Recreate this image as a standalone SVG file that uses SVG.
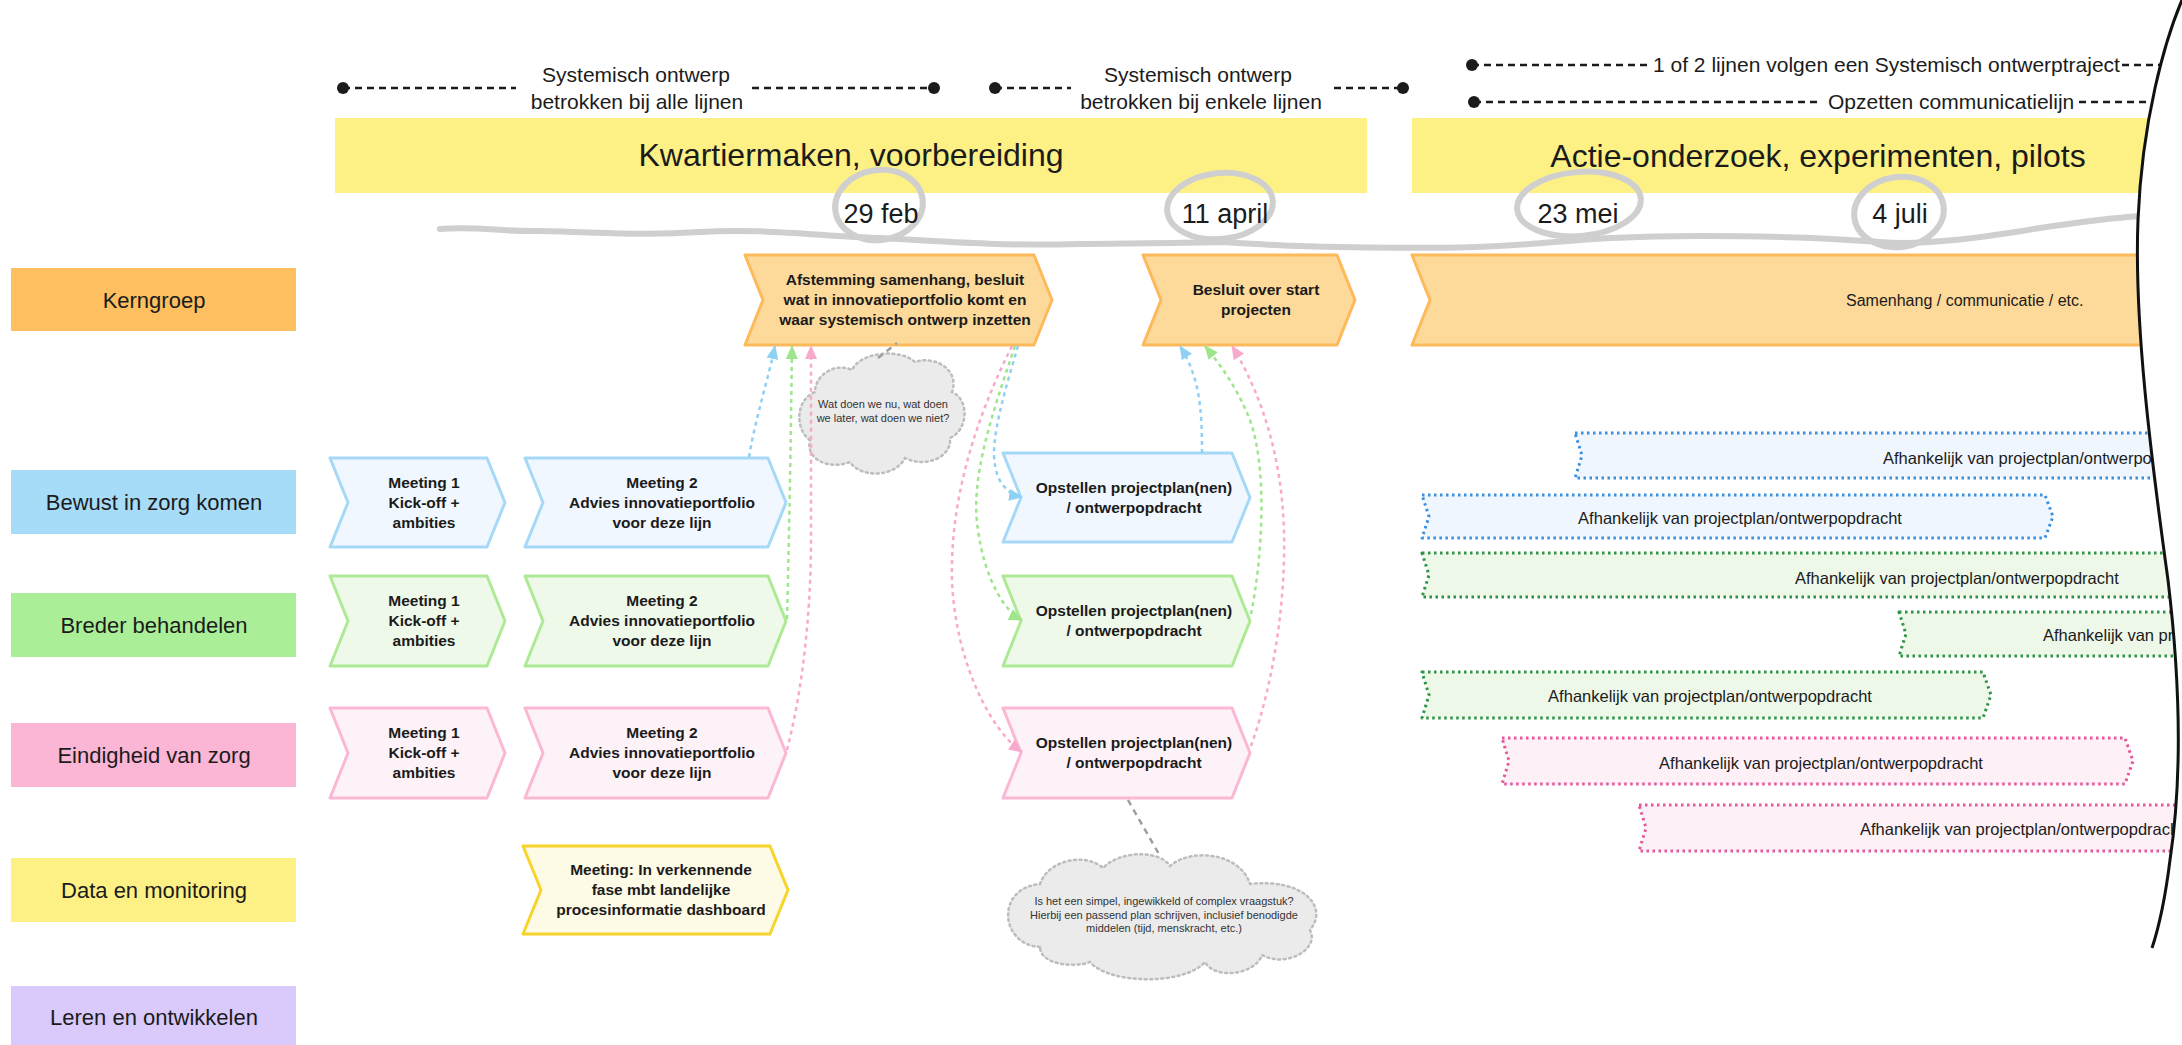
<svg xmlns="http://www.w3.org/2000/svg" width="2182" height="1045" viewBox="0 0 2182 1045">
  <style>
    text { font-family: "Liberation Sans", Arial, sans-serif; fill: #1b1b1b; }
    .lbl { font-size: 21px; }
    .title { font-size: 32px; text-anchor: middle; }
    .date { font-size: 27px; text-anchor: middle; }
    .lane-text { font-size: 22px; text-anchor: middle; }
    .node-text { font-size: 15.5px; font-weight: bold; text-anchor: middle; }
    .cloud-text { font-size: 11px; text-anchor: middle; fill: #333; }
    .bar-text { font-size: 16.5px; }
    .tl-dash { stroke: #1b1b1b; stroke-width: 2.5; stroke-dasharray: 7 5; fill: none; }
    .tl-dot { fill: #1b1b1b; }
    .scribble { fill: none; stroke: #cfcfcf; stroke-width: 6; stroke-linecap: round; stroke-linejoin: round; }
    .n-orange { fill: #fdd99a; stroke: #fdb95a; stroke-width: 3; stroke-linejoin: round; }
    .n-blue { fill: #f0f7fe; stroke: #a5d9f7; stroke-width: 3; stroke-linejoin: round; }
    .n-green { fill: #eff9ea; stroke: #aeea96; stroke-width: 3; stroke-linejoin: round; }
    .n-pink { fill: #fdf2f7; stroke: #fbb8d5; stroke-width: 3; stroke-linejoin: round; }
    .n-yellow { fill: #fdfae6; stroke: #f8d42a; stroke-width: 3; stroke-linejoin: round; }
    .bar { stroke-width: 3; stroke-dasharray: 2.5 3.5; stroke-linejoin: round; }
    .bar-blue { fill: #f0f6fe; stroke: #3b8fdc; }
    .bar-green { fill: #eef8e9; stroke: #2f9446; }
    .bar-pink { fill: #fdf0f6; stroke: #e4589a; }
    .cloud { fill: #ebebeb; stroke: #bdbdbd; stroke-width: 2.5; stroke-dasharray: 2 3.5; stroke-linecap: round; }
    .note-link { fill: none; stroke: #9e9e9e; stroke-width: 2.5; stroke-dasharray: 6 5; }
    .link { fill: none; stroke-width: 2.5; stroke-dasharray: 4 4; }
    .l-blue { stroke: #8fd1f5; }
    .l-green { stroke: #9ee58b; }
    .l-pink { stroke: #f9a9cc; }
  </style>
  <defs>
    <marker id="arrow-blue" viewBox="0 0 14 12" refX="13" refY="6" markerWidth="14" markerHeight="12" markerUnits="userSpaceOnUse" orient="auto">
      <path d="M0,0 L14,6 L0,12 z" fill="#8fd1f5"/>
    </marker>
    <marker id="arrow-green" viewBox="0 0 14 12" refX="13" refY="6" markerWidth="14" markerHeight="12" markerUnits="userSpaceOnUse" orient="auto">
      <path d="M0,0 L14,6 L0,12 z" fill="#9ee58b"/>
    </marker>
    <marker id="arrow-pink" viewBox="0 0 14 12" refX="13" refY="6" markerWidth="14" markerHeight="12" markerUnits="userSpaceOnUse" orient="auto">
      <path d="M0,0 L14,6 L0,12 z" fill="#f9a9cc"/>
    </marker>
  </defs>

  <rect x="0" y="0" width="2182" height="1045" fill="#ffffff"/>

  <!-- design-involvement spans above the phases -->
  <g id="span-alle-lijnen">
    <line class="tl-dash" x1="343" y1="88" x2="516" y2="88"/>
    <line class="tl-dash" x1="752" y1="88" x2="934" y2="88"/>
    <circle class="tl-dot" cx="343" cy="88" r="6"/>
    <circle class="tl-dot" cx="934" cy="88" r="6"/>
    <text class="lbl" x="636" y="82" text-anchor="middle">Systemisch ontwerp</text>
    <text class="lbl" x="637" y="109" text-anchor="middle">betrokken bij alle lijnen</text>
  </g>
  <g id="span-enkele-lijnen">
    <line class="tl-dash" x1="995" y1="88" x2="1071" y2="88"/>
    <line class="tl-dash" x1="1334" y1="88" x2="1403" y2="88"/>
    <circle class="tl-dot" cx="995" cy="88" r="6"/>
    <circle class="tl-dot" cx="1403" cy="88" r="6"/>
    <text class="lbl" x="1198" y="82" text-anchor="middle">Systemisch ontwerp</text>
    <text class="lbl" x="1201" y="109" text-anchor="middle">betrokken bij enkele lijnen</text>
  </g>
  <g id="span-ontwerptraject">
    <line class="tl-dash" x1="1472" y1="65" x2="1648" y2="65"/>
    <line class="tl-dash" x1="2122" y1="65" x2="2182" y2="65"/>
    <circle class="tl-dot" cx="1472" cy="65" r="6"/>
    <text class="lbl" x="1653" y="72">1 of 2 lijnen volgen een Systemisch ontwerptraject</text>
  </g>
  <g id="span-communicatie">
    <line class="tl-dash" x1="1474" y1="102" x2="1822" y2="102"/>
    <line class="tl-dash" x1="2079" y1="102" x2="2182" y2="102"/>
    <circle class="tl-dot" cx="1474" cy="102" r="6"/>
    <text class="lbl" x="1828" y="109">Opzetten communicatielijn</text>
  </g>

  <!-- phases -->
  <g id="phase-kwartiermaken">
    <rect x="335" y="118" width="1032" height="75" fill="#fdf185"/>
    <text class="title" x="851" y="166">Kwartiermaken, voorbereiding</text>
  </g>
  <g id="phase-actie-onderzoek">
    <rect x="1412" y="118" width="770" height="75" fill="#fdf185"/>
    <text class="title" x="1818" y="167">Actie-onderzoek, experimenten, pilots</text>
  </g>

  <!-- hand-drawn time line with circled dates -->
  <g id="timeline">
    <path class="scribble" d="M440,229 C480,226 500,232 540,231 C600,232 640,236 700,232 C760,228 820,236 880,238 C950,242 1000,246 1080,244 C1150,243 1190,243 1220,242 C1260,244 1290,247 1340,247 C1420,248 1470,249 1530,244 C1580,240 1620,236 1700,236 C1780,236 1830,238 1880,242 C1930,246 1990,236 2040,228 C2080,222 2110,218 2140,216"/>
    <ellipse class="scribble" cx="879" cy="205" rx="44" ry="35" transform="rotate(-8 879 205)"/>
    <ellipse class="scribble" cx="1220" cy="206" rx="53" ry="33" transform="rotate(-6 1220 206)"/>
    <ellipse class="scribble" cx="1579" cy="204" rx="62" ry="32" transform="rotate(-5 1579 204)"/>
    <ellipse class="scribble" cx="1899" cy="212" rx="45" ry="35" transform="rotate(-8 1899 212)"/>
    <text class="date" x="881" y="223">29 feb</text>
    <text class="date" x="1225" y="223">11 april</text>
    <text class="date" x="1578" y="223">23 mei</text>
    <text class="date" x="1900" y="223">4 juli</text>
  </g>

  <!-- swimlane headers -->
  <g id="lane-kerngroep">
    <rect x="11" y="268" width="285" height="63" fill="#fdbf5f"/>
    <text class="lane-text" x="154" y="308">Kerngroep</text>
  </g>
  <g id="lane-bewust">
    <rect x="11" y="470" width="285" height="64" fill="#a6dcf8"/>
    <text class="lane-text" x="154" y="510">Bewust in zorg komen</text>
  </g>
  <g id="lane-breder">
    <rect x="11" y="593" width="285" height="64" fill="#abee98"/>
    <text class="lane-text" x="154" y="633">Breder behandelen</text>
  </g>
  <g id="lane-eindigheid">
    <rect x="11" y="723" width="285" height="64" fill="#fbb5d5"/>
    <text class="lane-text" x="154" y="763">Eindigheid van zorg</text>
  </g>
  <g id="lane-data">
    <rect x="11" y="858" width="285" height="64" fill="#fdf185"/>
    <text class="lane-text" x="154" y="898">Data en monitoring</text>
  </g>
  <g id="lane-leren">
    <rect x="11" y="986" width="285" height="64" fill="#d9cafb"/>
    <text class="lane-text" x="154" y="1025">Leren en ontwikkelen</text>
  </g>

  <!-- Kerngroep steps -->
  <g id="node-afstemming">
    <polygon class="n-orange" points="745,255 1034,255 1052,300 1034,345 745,345 763,300"/>
    <text class="node-text" x="905" y="285">Afstemming samenhang, besluit</text>
    <text class="node-text" x="905" y="305">wat in innovatieportfolio komt en</text>
    <text class="node-text" x="905" y="325">waar systemisch ontwerp inzetten</text>
  </g>
  <g id="node-besluit">
    <polygon class="n-orange" points="1143,255 1337,255 1355,300 1337,345 1143,345 1161,300"/>
    <text class="node-text" x="1256" y="295">Besluit over start</text>
    <text class="node-text" x="1256" y="315">projecten</text>
  </g>
  <g id="node-samenhang">
    <polygon class="n-orange" points="1412,255 2200,255 2200,345 1412,345 1430,300"/>
    <text x="1846" y="306" font-size="16">Samenhang / communicatie / etc.</text>
  </g>

  <!-- Bewust in zorg komen -->
  <g id="node-bewust-m1">
    <polygon class="n-blue" points="330,458 487,458 505,502.5 487,547 330,547 348,502.5"/>
    <text class="node-text" x="424" y="488">Meeting 1</text>
    <text class="node-text" x="424" y="508">Kick-off +</text>
    <text class="node-text" x="424" y="528">ambities</text>
  </g>
  <g id="node-bewust-m2">
    <polygon class="n-blue" points="525,458 768,458 786,502.5 768,547 525,547 543,502.5"/>
    <text class="node-text" x="662" y="488">Meeting 2</text>
    <text class="node-text" x="662" y="508">Advies innovatieportfolio</text>
    <text class="node-text" x="662" y="528">voor deze lijn</text>
  </g>
  <g id="node-bewust-plan">
    <polygon class="n-blue" points="1003,453 1232,453 1250,497.5 1232,542 1003,542 1021,497.5"/>
    <text class="node-text" x="1134" y="493">Opstellen projectplan(nen)</text>
    <text class="node-text" x="1134" y="513">/ ontwerpopdracht</text>
  </g>

  <!-- Breder behandelen -->
  <g id="node-breder-m1">
    <polygon class="n-green" points="330,576 487,576 505,621 487,666 330,666 348,621"/>
    <text class="node-text" x="424" y="606">Meeting 1</text>
    <text class="node-text" x="424" y="626">Kick-off +</text>
    <text class="node-text" x="424" y="646">ambities</text>
  </g>
  <g id="node-breder-m2">
    <polygon class="n-green" points="525,576 768,576 786,621 768,666 525,666 543,621"/>
    <text class="node-text" x="662" y="606">Meeting 2</text>
    <text class="node-text" x="662" y="626">Advies innovatieportfolio</text>
    <text class="node-text" x="662" y="646">voor deze lijn</text>
  </g>
  <g id="node-breder-plan">
    <polygon class="n-green" points="1003,576 1232,576 1250,621 1232,666 1003,666 1021,621"/>
    <text class="node-text" x="1134" y="616">Opstellen projectplan(nen)</text>
    <text class="node-text" x="1134" y="636">/ ontwerpopdracht</text>
  </g>

  <!-- Eindigheid van zorg -->
  <g id="node-eindigheid-m1">
    <polygon class="n-pink" points="330,708 487,708 505,753 487,798 330,798 348,753"/>
    <text class="node-text" x="424" y="738">Meeting 1</text>
    <text class="node-text" x="424" y="758">Kick-off +</text>
    <text class="node-text" x="424" y="778">ambities</text>
  </g>
  <g id="node-eindigheid-m2">
    <polygon class="n-pink" points="525,708 768,708 786,753 768,798 525,798 543,753"/>
    <text class="node-text" x="662" y="738">Meeting 2</text>
    <text class="node-text" x="662" y="758">Advies innovatieportfolio</text>
    <text class="node-text" x="662" y="778">voor deze lijn</text>
  </g>
  <g id="node-eindigheid-plan">
    <polygon class="n-pink" points="1003,708 1232,708 1250,753 1232,798 1003,798 1021,753"/>
    <text class="node-text" x="1134" y="748">Opstellen projectplan(nen)</text>
    <text class="node-text" x="1134" y="768">/ ontwerpopdracht</text>
  </g>

  <!-- Data en monitoring -->
  <g id="node-data-meeting">
    <polygon class="n-yellow" points="523,846 770,846 788,890 770,934 523,934 541,890"/>
    <text class="node-text" x="661" y="875">Meeting: In verkennende</text>
    <text class="node-text" x="661" y="895">fase mbt landelijke</text>
    <text class="node-text" x="661" y="915">procesinformatie dashboard</text>
  </g>

  <!-- notes -->
  <g id="note-wat-doen">
    <path class="cloud" d="M810,440 C795,430 795,400 815,392 C815,375 835,362 852,370 C860,352 900,348 915,362 C935,355 960,370 952,392 C970,400 968,430 950,438 C952,458 925,468 905,458 C895,478 860,478 850,462 C830,470 805,460 810,440 Z"/>
    <text class="cloud-text" x="883" y="408">Wat doen we nu, wat doen</text>
    <text class="cloud-text" x="883" y="422">we later, wat doen we niet?</text>
  </g>
  <g id="note-vraagstuk">
    <path class="cloud" d="M1040,947 C1000,945 995,888 1040,884 C1048,860 1085,852 1103,868 C1120,850 1160,850 1170,866 C1190,848 1240,852 1250,884 C1300,878 1330,905 1310,930 C1320,950 1285,968 1262,955 C1255,975 1215,980 1205,962 C1185,985 1110,985 1090,962 C1075,968 1040,965 1040,947 Z"/>
    <text class="cloud-text" x="1164" y="905">Is het een simpel, ingewikkeld of complex vraagstuk?</text>
    <text class="cloud-text" x="1164" y="919">Hierbij een passend plan schrijven, inclusief benodigde</text>
    <text class="cloud-text" x="1164" y="932">middelen (tijd, menskracht, etc.)</text>
  </g>

  <!-- connectors -->
  <g id="connectors">
    <path class="note-link" d="M878,358 L897,343"/>
    <path class="note-link" d="M1128,800 L1160,856"/>

    <path class="link l-blue" d="M749,457 C755,420 768,380 775,346" marker-end="url(#arrow-blue)"/>
    <path class="link l-green" d="M787,619 C790,500 791,420 792,346" marker-end="url(#arrow-green)"/>
    <path class="link l-pink" d="M787,750 C805,680 811,600 811,540 L811,346" marker-end="url(#arrow-pink)"/>

    <path class="link l-blue" d="M1018,346 C1005,390 990,440 995,465 C998,485 1010,495 1022,497" marker-end="url(#arrow-blue)"/>
    <path class="link l-green" d="M1015,346 C990,420 970,480 978,530 C985,580 1005,612 1022,620" marker-end="url(#arrow-green)"/>
    <path class="link l-pink" d="M1012,346 C975,420 950,500 952,580 C955,660 990,730 1022,752" marker-end="url(#arrow-pink)"/>

    <path class="link l-blue" d="M1202,453 C1202,410 1200,378 1180,346" marker-end="url(#arrow-blue)"/>
    <path class="link l-green" d="M1251,614 C1262,560 1268,470 1250,420 C1236,385 1218,362 1205,346" marker-end="url(#arrow-green)"/>
    <path class="link l-pink" d="M1251,746 C1275,680 1290,580 1282,500 C1275,430 1252,378 1232,346" marker-end="url(#arrow-pink)"/>
  </g>

  <!-- project bars -->
  <g id="bar-bewust-1">
    <polygon class="bar bar-blue" points="1575,433 2260,433 2260,478 1575,478 1582,455.5"/>
    <text class="bar-text" x="1883" y="464">Afhankelijk van projectplan/ontwerpopdracht</text>
  </g>
  <g id="bar-bewust-2">
    <polygon class="bar bar-blue" points="1422,495 2045,495 2053,516.5 2045,538 1422,538 1429,516.5"/>
    <text class="bar-text" x="1740" y="524" text-anchor="middle">Afhankelijk van projectplan/ontwerpopdracht</text>
  </g>
  <g id="bar-breder-1">
    <polygon class="bar bar-green" points="1422,553 2260,553 2260,597 1422,597 1429,575"/>
    <text class="bar-text" x="1795" y="584">Afhankelijk van projectplan/ontwerpopdracht</text>
  </g>
  <g id="bar-breder-2">
    <polygon class="bar bar-green" points="1899,612 2260,612 2260,656 1899,656 1906,634"/>
    <text class="bar-text" x="2043" y="641">Afhankelijk van projectplan/ontwerpopdracht</text>
  </g>
  <g id="bar-breder-3">
    <polygon class="bar bar-green" points="1422,672 1983,672 1991,695 1983,718 1422,718 1429,695"/>
    <text class="bar-text" x="1710" y="702" text-anchor="middle">Afhankelijk van projectplan/ontwerpopdracht</text>
  </g>
  <g id="bar-eindigheid-1">
    <polygon class="bar bar-pink" points="1502,738 2125,738 2133,761 2125,784 1502,784 1509,761"/>
    <text class="bar-text" x="1821" y="769" text-anchor="middle">Afhankelijk van projectplan/ontwerpopdracht</text>
  </g>
  <g id="bar-eindigheid-2">
    <polygon class="bar bar-pink" points="1639,805 2260,805 2260,851 1639,851 1646,828"/>
    <text class="bar-text" x="1860" y="835">Afhankelijk van projectplan/ontwerpopdracht</text>
  </g>

  <!-- torn edge on the right -->
  <g id="torn-edge">
    <path d="M2182,0 C2165,40 2142,120 2138,220 C2134,320 2150,450 2168,580 C2180,680 2182,780 2170,860 C2165,900 2158,930 2152,948 L2182,948 L2182,0 Z" fill="#ffffff"/>
    <path d="M2182,0 C2165,40 2142,120 2138,220 C2134,320 2150,450 2168,580 C2180,680 2182,780 2170,860 C2165,900 2158,930 2152,948" fill="none" stroke="#111" stroke-width="3"/>
  </g>
</svg>
